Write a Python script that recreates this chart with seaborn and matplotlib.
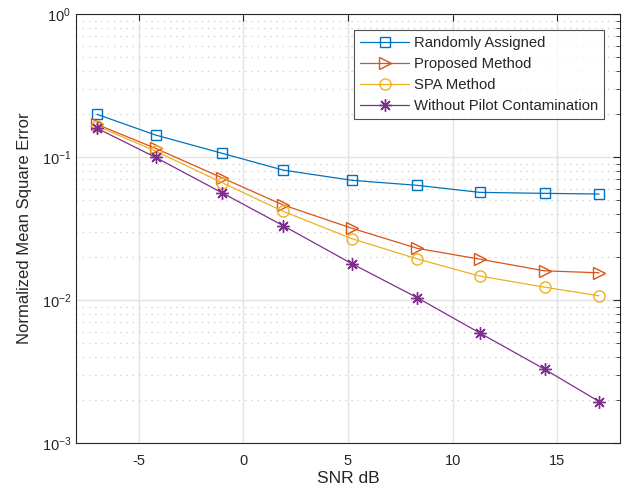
import matplotlib
matplotlib.use("Agg")
import matplotlib.pyplot as plt
import seaborn as sns
import pandas as pd
from matplotlib.ticker import LogLocator, LogFormatterMathtext, NullFormatter

snr_db = [-7, -4.2, -1, 1.9, 5.2, 8.3, 11.3, 14.4, 17]
randomly_assigned = [0.199, 0.1425, 0.106, 0.081, 0.0687, 0.0634, 0.0566, 0.0557, 0.0551]
proposed_method = [0.169, 0.115, 0.0713, 0.0462, 0.0317, 0.0230, 0.0193, 0.0160, 0.0155]
spa_method = [0.165, 0.110, 0.066, 0.0417, 0.0268, 0.0194, 0.0147, 0.0123, 0.0107]
without_contamination = [0.159, 0.0995, 0.056, 0.0331, 0.0179, 0.0104, 0.00588, 0.00328, 0.00195]

series = {
    "Randomly Assigned": randomly_assigned,
    "Proposed Method": proposed_method,
    "SPA Method": spa_method,
    "Without Pilot Contamination": without_contamination,
}
styles = {
    "Randomly Assigned": dict(color="#0072BD", marker="s", markersize=6.5),
    "Proposed Method": dict(color="#D95319", marker=">", markersize=9),
    "SPA Method": dict(color="#EDB120", marker="o", markersize=8),
    "Without Pilot Contamination": dict(color="#7E2F8E", marker=(8, 2, 0), markersize=9),
}

df = pd.DataFrame([
    {"snr": x, "nmse": v, "method": name}
    for name, vals in series.items() for x, v in zip(snr_db, vals)
])

sns.set_style("white")
plt.rcParams["font.family"] = ["Liberation Sans", "DejaVu Sans"]
plt.rcParams["mathtext.default"] = "regular"
plt.rcParams["axes.unicode_minus"] = False

fig = plt.figure(figsize=(6.25, 4.95), dpi=100)
ax = fig.add_axes([0.1216, 0.105, 0.8704, 0.8667])

for name in series:
    st = styles[name]
    sns.lineplot(data=df[df["method"] == name], x="snr", y="nmse", ax=ax,
                 label=name, color=st["color"], marker=st["marker"],
                 markersize=st["markersize"], markerfacecolor="none",
                 markeredgecolor=st["color"], markeredgewidth=1.0,
                 linewidth=0.9)

ax.set_yscale("log")
ax.set_xlim(-8, 18)
ax.set_ylim(1e-3, 1)
ax.set_xticks([-5, 0, 5, 10, 15])
ax.yaxis.set_major_locator(LogLocator(base=10, numticks=10))
ax.yaxis.set_major_formatter(LogFormatterMathtext())
ax.yaxis.set_minor_locator(LogLocator(base=10, subs=range(2, 10), numticks=20))
ax.yaxis.set_minor_formatter(NullFormatter())

ax.grid(True, which="major", color="#e3e3e3", linestyle="-", linewidth=1.0)
ax.grid(True, which="minor", axis="y", color="#cdcdcd", linestyle=(0, (1, 4)), linewidth=0.9)
ax.set_axisbelow(True)

ax.tick_params(which="both", direction="in", top=True, right=True,
               colors="#262626", labelsize=10.5)
ax.tick_params(which="major", length=5, width=0.8)
ax.tick_params(which="minor", length=3, width=0.6)
ax.tick_params(axis="x", which="major", pad=8)
for sp in ax.spines.values():
    sp.set_color("#262626")
    sp.set_linewidth(0.8)

ax.set_xlabel("SNR dB", fontsize=12.5, color="#262626", labelpad=2)
ax.set_ylabel("Normalized Mean Square Error", fontsize=12, color="#262626", labelpad=7)

leg = ax.legend(loc="upper right", bbox_to_anchor=(0.9705, 0.963), fontsize=10.7,
                frameon=True, fancybox=False, edgecolor="#262626",
                handlelength=3.3, handletextpad=0.3, labelspacing=0.48,
                borderpad=0.4, borderaxespad=0.0)
leg.get_frame().set_linewidth(0.8)

fig.savefig("out.png", dpi=100)
